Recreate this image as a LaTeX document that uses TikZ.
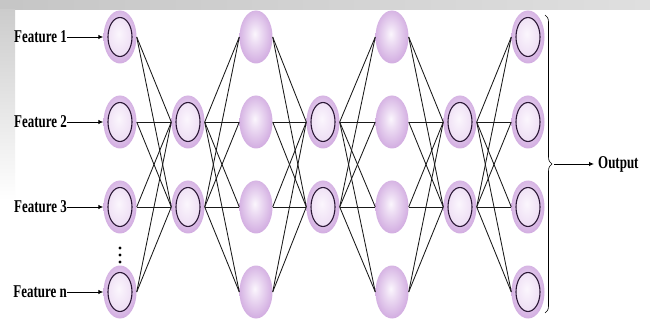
\documentclass[tikz,border=0pt]{standalone}
\usepackage{graphicx}
\usepackage{fontspec}
\setmainfont{Liberation Serif}
\usetikzlibrary{shapes.geometric,decorations.pathreplacing,arrows.meta}

\definecolor{lilac}{HTML}{C595D8}
\definecolor{lilacpale}{HTML}{FBF6FD}
\definecolor{ringink}{HTML}{2A1735}

\pgfdeclareradialshading{ballshade}{\pgfpoint{-2bp}{3bp}}{%
  color(0bp)=(lilacpale); color(10bp)=(lilacpale!70!lilac);
  color(28bp)=(lilac!82!white); color(50bp)=(lilac)}
\pgfdeclareradialshading{coreshade}{\pgfpoint{-2bp}{3bp}}{%
  color(0bp)=(lilacpale); color(20bp)=(lilacpale!75!lilac);
  color(50bp)=(lilac!70!white)}

\newcommand\narrowtext[1]{\scalebox{0.72}[1]{#1}}

\begin{document}
\begin{tikzpicture}[x=1pt,y=-1pt,
  neuron/.style={ellipse, minimum width=33pt, minimum height=53pt,
    inner sep=0pt, shading=ballshade},
  ringed/.style={neuron, path picture={
    \shade[shading=coreshade] (path picture bounding box.center) ellipse (12pt and 19.5pt);
    \draw[ringink, line width=1.1pt] (path picture bounding box.center) ellipse (12pt and 19.5pt);}},
  link/.style={black!90, line width=0.85pt},
  feat/.style={font=\fontsize{18}{18}\selectfont\bfseries, inner sep=0pt},
  arr/.style={black, line width=0.9pt, -{Latex[length=5pt,width=4.5pt]}},
  bracket/.style={black, line width=0.6pt, decorate,
    decoration={brace, amplitude=7pt}}
]
\useasboundingbox (0,0) rectangle (650,320);

% faint page background
\fill[white] (0,0) rectangle (650,320);
\shade[left color=gray!45, right color=gray!25] (0,0) rectangle (650,10);
\shade[top color=gray!40, bottom color=white] (0,10) rectangle (15,200);

% neurons: four-node layers
\foreach \r/\y in {1/37,2/122,3/207,4/292} {
  \node[ringed] (a\r) at (120,\y) {};
  \node[neuron] (c\r) at (256,\y) {};
  \node[neuron] (e\r) at (392,\y) {};
  \node[ringed] (g\r) at (528,\y) {};
}
% neurons: two-node layers
\foreach \r/\y in {2/122,3/207} {
  \node[ringed] (b\r) at (188,\y) {};
  \node[ringed] (d\r) at (323,\y) {};
  \node[ringed] (f\r) at (460,\y) {};
}

% full connections between neighbouring layers
\foreach \i in {1,...,4} {
  \foreach \j in {2,3} {
    \draw[link] (a\i.east) -- (b\j.west);
    \draw[link] (b\j.east) -- (c\i.west);
    \draw[link] (c\i.east) -- (d\j.west);
    \draw[link] (d\j.east) -- (e\i.west);
    \draw[link] (e\i.east) -- (f\j.west);
    \draw[link] (f\j.east) -- (g\i.west);
  }
}

% input labels
\node[feat, anchor=east] (l1) at (67,37)  {\narrowtext{Feature 1}};
\node[feat, anchor=east] (l2) at (67,122) {\narrowtext{Feature 2}};
\node[feat, anchor=east] (l3) at (67,207) {\narrowtext{Feature 3}};
\node[feat, anchor=east] (l4) at (67,292) {\narrowtext{Feature n}};
\foreach \k in {1,...,4} \draw[arr] (l\k.east) -- (a\k.west);

% vertical ellipsis between the last two inputs
\foreach \yy in {248,255,262} \fill (120,\yy) circle (1.7pt);

% output brace and label
\coordinate (btop) at (545,15);
\coordinate (bbot) at (545,313);
\coordinate (btip) at (554,164);
\draw[bracket] (btop) -- (bbot);
\node[feat, anchor=west] (out) at (598,164) {\narrowtext{Output}};
\draw[arr, shorten >=4pt] (btip) -- (out.west);
\end{tikzpicture}
\end{document}
